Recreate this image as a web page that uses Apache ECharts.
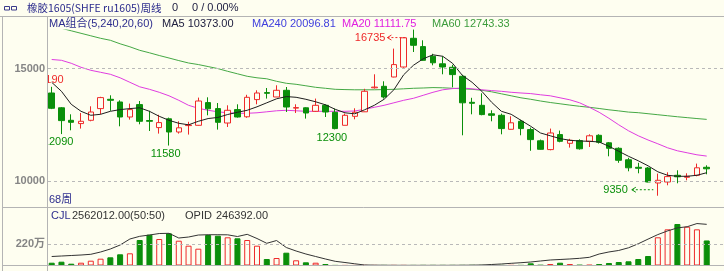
<!DOCTYPE html>
<html><head><meta charset="utf-8">
<script src="https://cdn.jsdelivr.net/npm/echarts@6/dist/echarts.min.js"></script>
<style>html,body{margin:0;padding:0;background:#fefef0;}#c{width:724px;height:271px;}</style>
</head><body><div id="c"></div>
<script>
const open = [13916,13258,12702,12556,12702,13222,13636,13516,12849,13400,
 12693,12378,12769,12182,12467,12480,13489,13222,12582,13178,
 12858,13622,13933,13738,14036,13244,13258,13102,13369,13058,
 12480,12880,13080,14147,14213,14627,15071,16347,15978,15547,
 15213,15058,14658,13502,13369,12991,12925,12302,12658,12289,
 11791,11400,12067,11680,11800,11769,12036,11702,11458,10947,
 10614,10582,9916,9960,10258,10169,10258,10614];
const close = [13236,12689,12613,12658,13071,13711,13591,12849,13178,12658,
 12658,12600,12182,12369,12493,13560,13213,12613,13147,12849,
 13724,13916,13902,14036,13293,13267,13027,13369,13071,12334,
 12925,13058,13991,14178,13738,15178,16369,16036,15369,15258,
 15071,14733,13480,13458,12956,12925,12334,12591,12334,11844,
 11413,12138,11769,11813,11436,12013,11725,11458,10925,10591,
 10569,9960,10036,10200,10191,10214,10591,10547];
const high = [14190,13290,12969,13027,13325,13747,13813,13591,13444,13560,
 13125,12947,12822,12658,12636,13711,13724,13471,13369,13413,
 13836,14036,14138,14258,14182,13413,13280,13667,13413,13222,
 13000,13236,14102,14747,14436,15889,16400,16735,16258,15658,
 15547,15169,14724,13702,13902,13147,13000,12880,12725,12378,
 11845,12334,12245,11880,11858,12080,12080,11738,11502,11036,
 10813,10627,10334,10391,10480,10347,10778,10702];
const low = [13200,12090,12258,12334,12658,12969,13125,12436,12733,12525,
 12227,12111,11580,12111,12067,12467,12925,12289,12405,12822,
 12813,13413,13667,13738,13071,13027,12778,13080,12849,12300,
 12480,12747,13071,14111,13667,14613,15040,15738,15347,15147,
 14747,14169,12036,12969,12925,12658,12080,12289,12036,11347,
 11400,11369,11725,11489,11400,11516,11667,11102,10813,10436,
 10347,9947,9350,9814,9903,10036,10214,10302];
const ma5 = [14391,13991,13413,13102,12925,12969,13102,13178,13222,13258,
 13102,12880,12702,12569,12502,12658,12780,12830,12960,13058,
 13147,13302,13480,13658,13756,13725,13636,13525,13391,13191,
 13036,12991,13169,13369,13636,14058,14724,15147,15436,15613,
 15547,15236,14702,14391,13991,13502,13102,12969,12702,12436,
 12138,12014,11889,11814,11782,11769,11738,11547,11325,11103,
 10903,10680,10414,10258,10214,10214,10258,10373];
const ma20 = [15404,15369,15236,15058,14925,14836,14747,14591,14391,14191,
 14080,13947,13791,13591,13369,13236,13147,13080,13036,13014,
 13014,13036,13080,13125,13147,13125,13102,13102,13102,13102,
 13102,13116,13191,13280,13369,13480,13591,13680,13813,13947,
 14058,14111,14138,14102,14058,14022,13991,13947,13916,13889,
 13836,13791,13702,13613,13480,13280,13058,12791,12502,12236,
 12014,11827,11658,11480,11347,11258,11169,11112];
const ma60 = [16902,16791,16680,16569,16458,16347,16258,16102,15969,15813,
 15702,15582,15471,15356,15249,15180,15090,15000,14880,14769,
 14658,14591,14547,14436,14347,14302,14236,14169,14125,14080,
 14067,14058,14058,14058,14067,14080,14102,14125,14138,14156,
 14147,14125,14102,14080,14036,13969,13880,13791,13702,13636,
 13560,13493,13436,13378,13325,13280,13227,13169,13120,13067,
 13040,12995,12950,12905,12860,12820,12780,12743];
const volume = [286000,389000,184000,286000,491000,696000,839000,1146000,1248000,2609000,
 3150000,2710000,3290000,2537000,2026000,1719000,3120000,3049000,2885000,2783000,
 2609000,2026000,665000,767000,1310000,532000,327000,286000,153000,12000,
 10000,9000,10000,8000,9000,10000,11000,9000,12000,10000,
 11000,12000,10000,13000,12000,14000,15000,16000,18000,225000,
 40000,150000,286000,150000,50000,60000,150000,256000,358000,430000,
 665000,972000,2885000,3700000,4245000,3970000,3700000,2562012];
const opid = [53800,56800,59800,62800,67000,80700,98700,122600,158500,174600,
 182400,191400,192600,164500,170400,182400,184200,184200,183600,173400,
 186600,161500,132800,149500,107600,86700,68800,53800,38900,25100,
 17900,10200,3000,2000,1500,1200,1000,1000,1000,1000,
 1000,1200,1500,2000,3000,6000,9000,13000,16700,21000,
 27000,33000,36000,39000,43000,49000,68800,81000,90000,106000,
 130000,158000,185000,207000,225000,232000,251000,246392];
const priceTicks = [10000, 15000];
const volTick = 2200000;
const volTickLabel = '220万';
const categories = open.map((_, i) => 'W' + (i + 1));

const BG = '#fefef0', RED = '#ee2a2a', GREEN = '#0a8f0a';
const F = '"Liberation Sans","Noto Sans CJK SC",sans-serif';
const chart = echarts.init(document.getElementById('c'), null, {renderer: 'canvas', devicePixelRatio: 1});

const candleData = open.map((o, i) => [o, close[i], low[i], high[i]]);
const volData = volume.map((v, i) => ({
  value: v,
  itemStyle: close[i] >= open[i] ? {color: BG, borderColor: RED, borderWidth: 1}
                                  : {color: GREEN, borderColor: GREEN, borderWidth: 1}
}));

// price pane: 15000 at y=68.6, 10000 at y=181.1 (112.5px per 5000), clipped at y=30
const PX_PER = 112.5 / 5000;
const PTOP = 30, PBOT = 237.35;
const pMax = 15000 + (68.6 - PTOP) / PX_PER;
const pMin = 10000 - (PBOT - 181.1) / PX_PER;

const hidden = {show: false};
chart.setOption({
  backgroundColor: BG,
  animation: false,
  grid: [
    {left: 46.8, width: 664.8, top: PTOP, height: PBOT - PTOP},
    {left: 46.8, width: 664.8, top: 201, height: 64.5},
    {left: 48, right: 0, top: 68.6, height: 112.5},
    {left: 48, right: 0, top: 244, height: 21.5}
  ],
  xAxis: [
    {type: 'category', gridIndex: 0, data: categories, boundaryGap: true, show: false},
    {type: 'category', gridIndex: 1, data: categories, boundaryGap: true, show: false},
    {type: 'value', gridIndex: 2, min: 0, max: 1, show: false},
    {type: 'value', gridIndex: 3, min: 0, max: 1, show: false}
  ],
  yAxis: [
    {type: 'value', gridIndex: 0, min: pMin, max: pMax, show: false},
    {type: 'value', gridIndex: 1, min: 0, max: 6600000, show: false},
    {type: 'value', gridIndex: 1, min: 0, max: 386000, show: false},
    {type: 'value', gridIndex: 2, min: priceTicks[0], max: priceTicks[1], interval: priceTicks[1] - priceTicks[0], z: 20,
     axisLine: hidden, axisTick: hidden,
     axisLabel: {margin: 3, color: '#858585', fontWeight: 'bold', fontSize: 11, fontFamily: F, formatter: v => String(v)},
     splitLine: {show: true, lineStyle: {color: '#b9b9b9', type: [3, 3], width: 1}}},
    {type: 'value', gridIndex: 3, min: 0, max: volTick, interval: volTick, z: 20,
     axisLine: hidden, axisTick: hidden,
     axisLabel: {margin: 3, color: '#858585', fontWeight: 'bold', fontSize: 11, fontFamily: F,
                 formatter: v => v === volTick ? volTickLabel : ''},
     splitLine: {show: true, lineStyle: {color: '#b9b9b9', type: [3, 3], width: 1}}}
  ],
  series: [
    {type: 'line', name: 'MA60', xAxisIndex: 0, yAxisIndex: 0, data: ma60, symbol: 'none', z: 3, clip: true,
     lineStyle: {color: '#45a845', width: 1}},
    {type: 'line', name: 'MA20', xAxisIndex: 0, yAxisIndex: 0, data: ma20, symbol: 'none', z: 3, clip: true,
     lineStyle: {color: '#e03ce0', width: 1}},
    {type: 'candlestick', xAxisIndex: 0, yAxisIndex: 0, data: candleData, barWidth: 6, z: 4, clip: true,
     itemStyle: {color: BG, color0: GREEN, borderColor: RED, borderColor0: GREEN, borderWidth: 1}},
    {type: 'line', name: 'MA5', xAxisIndex: 0, yAxisIndex: 0, data: ma5, symbol: 'none', z: 5, clip: true,
     lineStyle: {color: '#1e1e1e', width: 1}},
    {type: 'bar', xAxisIndex: 1, yAxisIndex: 1, data: volData, barWidth: 6, z: 3},
    {type: 'line', xAxisIndex: 1, yAxisIndex: 2, data: opid, symbol: 'none', z: 4,
     lineStyle: {color: '#333333', width: 1}}
  ]
});

const P = (i, v) => chart.convertToPixel({gridIndex: 0}, [i, v]);
function txt(x, y, s, color, font, align, z) {
  return {type: 'text', x: x, y: y, z: z || 25, silent: true,
    style: {text: s, fill: color, font: font, textAlign: align || 'left', textVerticalAlign: 'middle',
            align: align || 'left', verticalAlign: 'middle'}};
}
function ln(x1, y1, x2, y2, color, dash, z) {
  return {type: 'line', z: z || 30, silent: true, shape: {x1: x1, y1: y1, x2: x2, y2: y2},
    style: {stroke: color, lineWidth: 1, lineDash: dash || null}};
}
function arrow(xHead, xEnd, y, color) {
  return [
    {type: 'polyline', z: 25, silent: true, shape: {points: [[xHead + 4, y - 2.5], [xHead, y], [xHead + 4, y + 2.5]]},
     style: {stroke: color, fill: null, lineWidth: 1}},
    ln(xHead, y, xEnd, y, color, [2, 2], 25)
  ];
}
const f11 = '11px ' + F;
const g = [];
const h0 = P(0, high[0]);
g.push(txt(h0[0] - 3.3, h0[1] - 6.5, String(high[0]), RED, f11, 'center', 10));
[1, 12, 29].forEach(i => {
  const p = P(i, low[i]);
  g.push(txt(p[0] - 3.3, p[1] + 8.3, String(low[i]), GREEN, f11, 'center', 10));
});
const hm = P(37, high[37]);
g.push(txt(hm[0] - 28, hm[1] + 8.5, String(high[37]), RED, f11, 'right', 25));
g.push(...arrow(hm[0] - 26, hm[0] - 8, hm[1] + 8, RED));
const lm = P(62, low[62]);
g.push(txt(lm[0] - 30, lm[1] - 5.5, String(low[62]), GREEN, f11, 'right', 25));
g.push(...arrow(lm[0] - 26, lm[0] - 4.5, lm[1] - 6, GREEN));
g.push({type: 'rect', z: 15, silent: true, shape: {x: 3, y: 17, width: 44.5, height: 189}, style: {fill: BG}});
g.push({type: 'rect', z: 25, silent: true, shape: {x: 4.5, y: 6.5, width: 5, height: 3.5}, style: {fill: null, stroke: '#3a3a8a', lineWidth: 1}});
g.push({type: 'rect', z: 25, silent: true, shape: {x: 11.5, y: 6.5, width: 5, height: 3.5}, style: {fill: null, stroke: '#3a3a8a', lineWidth: 1}});
g.push(txt(27, 8, '橡胶1605(SHFE ru1605)周线', '#2a2a8c', '10.5px "Noto Sans CJK SC",sans-serif'));
g.push(txt(172, 8, '0', '#222244', f11));
g.push(txt(192, 8, '0 / 0.00%', '#222244', f11));
g.push(txt(49, 24, 'MA组合(5,240,20,60)', '#2e2e8e', f11));
g.push(txt(162, 24, 'MA5 10373.00', '#202040', f11));
g.push(txt(252, 24, 'MA240 20096.81', '#4040dd', f11));
g.push(txt(342, 24, 'MA20 11111.75', '#e020e0', f11));
g.push(txt(432, 24, 'MA60 12743.33', '#3c9c3c', f11));
g.push(txt(49, 200, '68周', '#2e2e8e', f11));
g.push(txt(51, 216, 'CJL', '#2e2e8e', f11));
g.push(txt(72, 216, '2562012.00(50:50)', '#333333', f11));
g.push(txt(185, 216, 'OPID', '#333333', f11));
g.push(txt(216, 216, '246392.00', '#333333', f11));
const LC = '#b4b4b4';
g.push(ln(0, 16.5, 724, 16.5, LC));
g.push(ln(2.5, 16.5, 2.5, 271, LC));
g.push(ln(47.5, 16.5, 47.5, 271, LC));
g.push(ln(2.5, 207.5, 724, 207.5, LC));
g.push(ln(2.5, 265.5, 724, 265.5, LC));
chart.setOption({graphic: {elements: g}});
</script></body></html>
